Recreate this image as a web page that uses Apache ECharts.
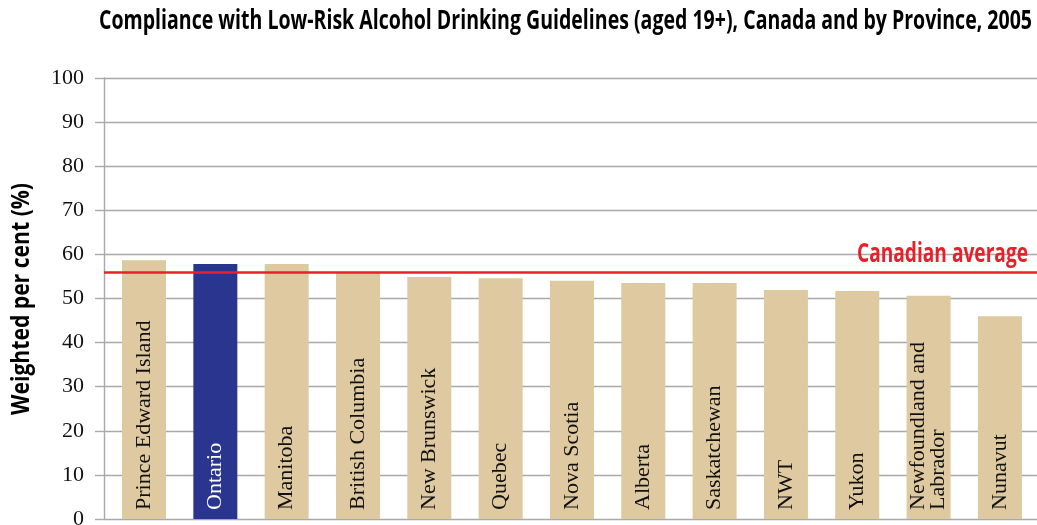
<!DOCTYPE html>
<html>
<head>
<meta charset="utf-8">
<script src="https://cdn.jsdelivr.net/npm/echarts@6/dist/echarts.min.js"></script>
<style>
  html, body { margin: 0; padding: 0; background: #ffffff; }
  #chart { width: 1037px; height: 525px; }
</style>
</head>
<body>
<div id="chart"></div>
<script>
// Jurisdictions, in the order shown along the horizontal axis
const provinces = [
  'Prince Edward Island', 'Ontario', 'Manitoba', 'British Columbia',
  'New Brunswick', 'Quebec', 'Nova Scotia', 'Alberta', 'Saskatchewan',
  'NWT', 'Yukon', 'Newfoundland and\nLabrador', 'Nunavut'
];
// Weighted per cent complying with the guidelines
const compliance = [58.7, 57.8, 57.8, 56.0, 54.9, 54.6, 54.0, 53.5, 53.5, 51.9, 51.7, 50.6, 46.0];
// National figure drawn as a reference line
const canadianAverage = 55.9;
const highlighted = 'Ontario';
const yTicks = { min: 0, max: 100, step: 10 };

const titleText = 'Compliance with Low-Risk Alcohol Drinking Guidelines (aged 19+), Canada and by Province, 2005';
const yAxisTitle = 'Weighted per cent (%)';
const averageText = 'Canadian average';

const BEIGE = '#dec9a0';
const NAVY = '#29358f';
const RED = '#e8202a';
const GRID_GREY = '#a9a9a9';
const SANS = '"Open Sans", "Roboto", "DejaVu Sans", sans-serif';
const SERIF = '"Liberation Serif", "DejaVu Serif", serif';

// Condensed headings: a regular bold face squeezed horizontally to a target width
const measureCtx = document.createElement('canvas').getContext('2d');
function squeeze(text, size, targetWidth) {
  measureCtx.font = 'bold ' + size + 'px ' + SANS;
  return targetWidth / measureCtx.measureText(text).width;
}
function condensedText(text, size, fill, props) {
  return Object.assign({
    type: 'text',
    silent: true,
    originX: 0,
    originY: 0,
    style: {
      text: text,
      font: 'bold ' + size + 'px ' + SANS,
      fill: fill,
      align: 'left',
      verticalAlign: 'middle',
      textAlign: 'left',
      textVerticalAlign: 'middle'
    }
  }, props);
}

const barData = provinces.map((name, i) => {
  const isHi = name === highlighted;
  return {
    name: name,
    value: [i, compliance[i]],
    itemStyle: { color: isHi ? NAVY : BEIGE },
    label: { color: isHi ? '#ffffff' : '#111111' }
  };
});

const chart = echarts.init(document.getElementById('chart'), null, { renderer: 'canvas' });
chart.setOption({
  animation: false,
  backgroundColor: '#ffffff',
  grid: { left: 104, right: 0, top: 78, bottom: 6, containLabel: false, outerBoundsMode: 'none' },
  xAxis: {
    type: 'value',
    min: -0.561,
    max: 12.52,
    show: false,
    splitLine: { show: false }
  },
  yAxis: {
    type: 'value',
    min: yTicks.min,
    max: yTicks.max,
    interval: yTicks.step,
    axisLine: { show: true, onZero: false, lineStyle: { color: GRID_GREY, width: 1.4 } },
    axisTick: { show: true, length: 9, lineStyle: { color: GRID_GREY, width: 1.4 } },
    axisLabel: { fontFamily: SERIF, fontSize: 22, color: '#111111', margin: 20 },
    splitLine: { show: true, lineStyle: { color: GRID_GREY, width: 1.4 } }
  },
  series: [{
    type: 'bar',
    barWidth: 44,
    data: barData,
    label: {
      show: true,
      position: 'insideBottom',
      rotate: 90,
      align: 'left',
      verticalAlign: 'middle',
      distance: 9,
      formatter: '{b}',
      fontFamily: SERIF,
      fontSize: 22,
      lineHeight: 20
    },
    markLine: {
      silent: true,
      symbol: 'none',
      data: [{ yAxis: canadianAverage }],
      lineStyle: { color: RED, width: 2.6, type: 'solid' },
      label: { show: false }
    }
  }]
});

// Title, axis title and the average's caption as condensed text
const avgY = chart.convertToPixel({ gridIndex: 0 }, [0, canadianAverage])[1];
const titleScale = squeeze(titleText, 26, 933);
const yNameScale = squeeze(yAxisTitle, 25, 232);
const avgScale = squeeze(averageText, 26, 171);
measureCtx.font = 'bold 26px ' + SANS;
const avgWidth = measureCtx.measureText(averageText).width * avgScale;

chart.setOption({
  graphic: [
    condensedText(titleText, 26, '#000000', { x: 99, y: 22, scaleX: titleScale }),
    condensedText(yAxisTitle, 25, '#000000', { x: 22, y: 299 + 116, rotation: Math.PI / 2, scaleX: yNameScale }),
    condensedText(averageText, 26, RED, { x: 1028 - avgWidth, y: avgY - 18, scaleX: avgScale })
  ]
});
</script>
</body>
</html>
